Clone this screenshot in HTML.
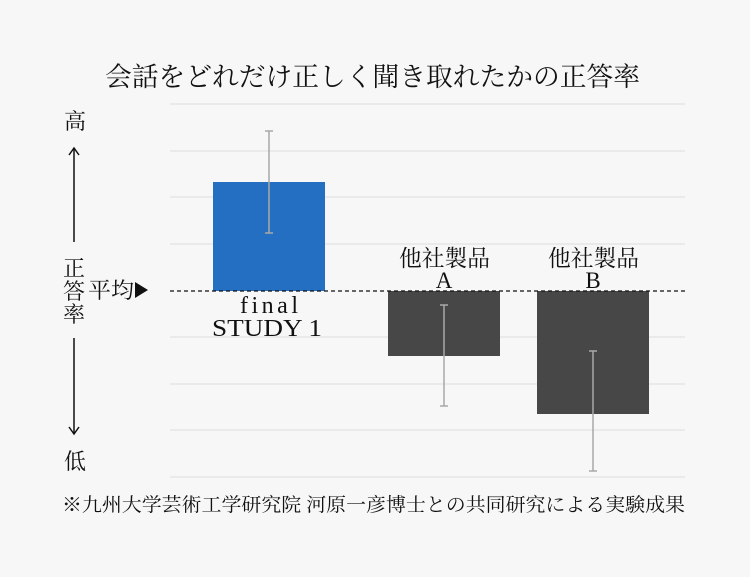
<!DOCTYPE html>
<html><head><meta charset="utf-8"><style>
html,body{margin:0;padding:0;background:#f7f7f7;}
svg{display:block;}
text{font-family:"Liberation Serif","Noto Serif CJK SC",serif;fill:#111;}
</style></head><body>
<svg width="750" height="577" viewBox="0 0 750 577">
<rect width="750" height="577" fill="#f7f7f7"/>
<text x="105" y="86" font-size="26.5" textLength="535" lengthAdjust="spacingAndGlyphs">会話をどれだけ正しく聞き取れたかの正答率</text>
<g stroke="#e2e2e2" stroke-width="1.2">
<line x1="170" y1="104" x2="685" y2="104"/>
<line x1="170" y1="151" x2="685" y2="151"/>
<line x1="170" y1="197" x2="685" y2="197"/>
<line x1="170" y1="244" x2="685" y2="244"/>
<line x1="170" y1="337" x2="685" y2="337"/>
<line x1="170" y1="384" x2="685" y2="384"/>
<line x1="170" y1="430" x2="685" y2="430"/>
<line x1="170" y1="477" x2="685" y2="477"/>
</g>
<rect x="213" y="182" width="112" height="109" fill="#246fc1"/>
<rect x="388" y="291" width="112" height="65" fill="#474747"/>
<rect x="537" y="291" width="112" height="123" fill="#474747"/>
<line x1="170" y1="291" x2="685" y2="291" stroke="#111" stroke-width="1.3" stroke-dasharray="4,3"/>
<g stroke="#a8a8a8" stroke-width="1.5">
<line x1="269" y1="131" x2="269" y2="233"/><line x1="265" y1="131" x2="273" y2="131"/><line x1="265" y1="233" x2="273" y2="233"/>
<line x1="444" y1="305" x2="444" y2="406"/><line x1="440" y1="305" x2="448" y2="305"/><line x1="440" y1="406" x2="448" y2="406"/>
<line x1="593" y1="351" x2="593" y2="471"/><line x1="589" y1="351" x2="597" y2="351"/><line x1="589" y1="471" x2="597" y2="471"/>
</g>
<text x="240" y="313" font-size="24" textLength="58" lengthAdjust="spacing">final</text>
<text x="212" y="336" font-size="24" textLength="110" lengthAdjust="spacingAndGlyphs">STUDY 1</text>
<text x="399" y="266" font-size="23" textLength="91" lengthAdjust="spacingAndGlyphs">他社製品</text>
<text x="444" y="288" font-size="23" text-anchor="middle">A</text>
<text x="548" y="266" font-size="23" textLength="91" lengthAdjust="spacingAndGlyphs">他社製品</text>
<text x="593" y="288" font-size="23" text-anchor="middle">B</text>
<text x="75" y="129" font-size="22" text-anchor="middle">高</text>
<text x="75" y="469" font-size="22" text-anchor="middle">低</text>
<g stroke="#111" stroke-width="1.5" fill="none">
<line x1="74" y1="148" x2="74" y2="242"/><polyline points="69,155 74,148 79,155"/>
<line x1="74" y1="338" x2="74" y2="434"/><polyline points="69,427 74,434 79,427"/>
</g>
<text x="74" y="276" font-size="22" text-anchor="middle">正</text>
<text x="74" y="299" font-size="22" text-anchor="middle">答</text>
<text x="74" y="322" font-size="22" text-anchor="middle">率</text>
<text x="88" y="298" font-size="22" textLength="46" lengthAdjust="spacingAndGlyphs">平均</text>
<polygon points="135,282 148,290 135,298" fill="#111"/>
<text x="62" y="511" font-size="19" textLength="623" lengthAdjust="spacingAndGlyphs">※九州大学芸術工学研究院 河原一彦博士との共同研究による実験成果</text>
</svg>
</body></html>
